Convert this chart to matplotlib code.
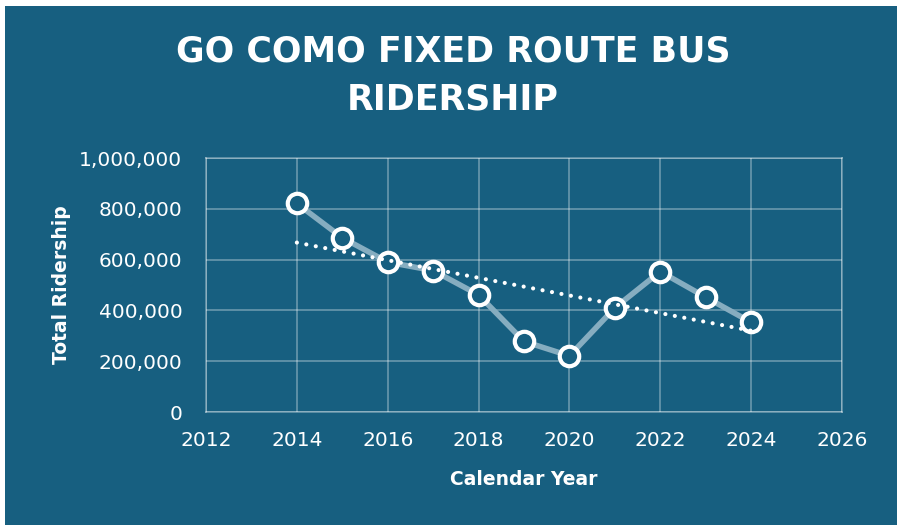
import numpy as np
import matplotlib.pyplot as plt
from matplotlib.patches import Rectangle
from matplotlib.ticker import FuncFormatter

# valori
years = [2014, 2015, 2016, 2017, 2018, 2019, 2020, 2021, 2022, 2023, 2024]
ridership = [821000, 686000, 590000, 557000, 461000, 278000, 221000, 410000, 553000, 452000, 353000]
trend_years = [2014, 2024]
trend_values = [667000, 320000]

bg = '#175f80'
line_col = '#86adc0'

fig = plt.figure(figsize=(8.97, 5.25), dpi=100)
fig.patch.set_facecolor('white')
# pannello blu (bordo bianco sottile in alto e a sinistra)
fig.patches.append(Rectangle((5 / 897, 0), 1 - 5 / 897, 1 - 6 / 525,
                             transform=fig.transFigure, facecolor=bg,
                             edgecolor='none', zorder=-10))

ax = fig.add_axes([206 / 897, 1 - 412 / 525, 636 / 897, 254 / 525])
ax.set_facecolor(bg)

ax.plot(years, ridership, color=line_col, lw=4, zorder=3,
        marker='o', markersize=14, markerfacecolor=bg,
        markeredgecolor='white', markeredgewidth=3)
ax.plot(trend_years, trend_values, color='white', lw=3, zorder=4,
        dashes=(0.01, 2.3), dash_capstyle='round')

ax.set_xlim(2012, 2026)
ax.set_ylim(0, 1000000)
ax.set_xticks(np.arange(2012, 2027, 2))
ax.set_yticks(np.arange(0, 1000001, 200000))
ax.yaxis.set_major_formatter(FuncFormatter(lambda v, p: f'{int(v):,}'))

ax.grid(True, color='white', alpha=0.3, lw=1.4)
for s in ax.spines.values():
    s.set_color((1, 1, 1, 0.3))
    s.set_linewidth(1.4)
ax.tick_params(length=0, colors='white', labelsize=14.5)
ax.tick_params(axis='y', pad=17)
ax.tick_params(axis='x', pad=14)

ax.set_xlabel('Calendar Year', color='white', fontsize=13.5, fontweight='bold', labelpad=14)
ax.set_ylabel('Total Ridership', color='white', fontsize=13.5, fontweight='bold', labelpad=6)

fig.text(0.505, 1 - 52 / 525, 'GO COMO FIXED ROUTE BUS', ha='center', va='center',
         color='white', fontsize=25, fontweight='bold')
fig.text(0.505, 1 - 100 / 525, 'RIDERSHIP', ha='center', va='center',
         color='white', fontsize=25, fontweight='bold')

fig.savefig('out.png', dpi=100, facecolor=fig.get_facecolor())
